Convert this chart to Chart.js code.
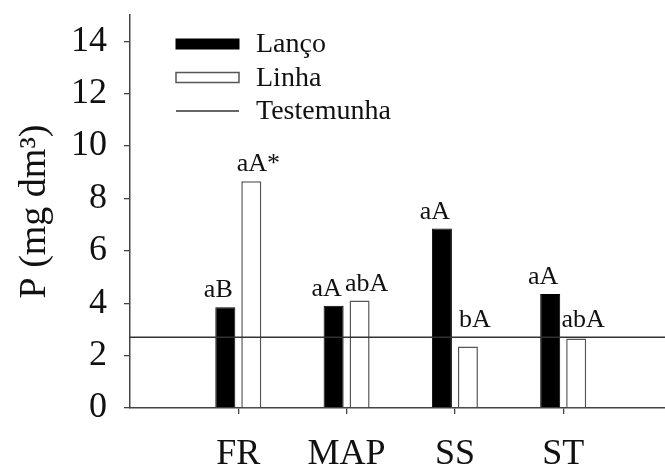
<!DOCTYPE html>
<html>
<head>
<meta charset="utf-8">
<script src="https://cdn.jsdelivr.net/npm/chart.js@4.4.1/dist/chart.umd.min.js"></script>
<style>
    html, body { margin: 0; padding: 0; background: #fff; }
    #wrap { width: 665px; height: 465px; }
</style>
</head>
<body>
<div id="wrap"><canvas id="chart" width="665" height="465"></canvas></div>
<script>
// dados
const categories = ["FR", "MAP", "SS", "ST"];
const lanco = [3.85, 3.9, 6.85, 4.35];
const linha = [8.65, 4.1, 2.35, 2.65];
const testemunha = 2.7;
const lancoLetters = ["aB", "aA", "aA", "aA"];
const linhaLetters = ["aA*", "abA", "bA", "abA"];
const yTicks = [0, 2, 4, 6, 8, 10, 12, 14];
const xMin = 0, xMax = 4.94, yMin = 0, yMax = 15;

const serif = "'Liberation Serif', 'DejaVu Serif', serif";
const ink = "#111";
const axisColor = "#444";

// Letras sobre as barras
const barLetters = {
    id: "barLetters",
    afterDatasetsDraw(chart) {
        const ctx = chart.ctx;
        const lineY = chart.scales.y.getPixelForValue(testemunha);
        const sets = [[0, lancoLetters, -7], [1, linhaLetters, 7]];
        ctx.save();
        ctx.font = "26px " + serif;
        ctx.fillStyle = ink;
        ctx.textAlign = "center";
        ctx.textBaseline = "alphabetic";
        sets.forEach(([idx, letters, nudge]) => {
            chart.getDatasetMeta(idx).data.forEach((bar, i) => {
                const top = Math.min(bar.y, lineY);
                ctx.fillText(letters[i], bar.x + nudge, top - 10);
            });
        });
        ctx.restore();
    }
};

// Legenda dentro do grafico
const innerLegend = {
    id: "innerLegend",
    afterDraw(chart) {
        const ctx = chart.ctx;
        const area = chart.chartArea;
        const x = area.left + 46;
        let y = area.top + 29;
        ctx.save();
        ctx.font = "28px " + serif;
        ctx.textBaseline = "middle";
        ctx.textAlign = "left";
        chart.data.datasets.forEach(ds => {
            if (ds.type === "line") {
                ctx.strokeStyle = ds.borderColor;
                ctx.lineWidth = ds.borderWidth;
                ctx.beginPath();
                ctx.moveTo(x, y);
                ctx.lineTo(x + 63, y);
                ctx.stroke();
            } else {
                ctx.fillStyle = ds.backgroundColor;
                ctx.fillRect(x, y - 5, 63, 10);
                ctx.strokeStyle = ds.borderColor;
                ctx.lineWidth = ds.borderWidth;
                ctx.strokeRect(x, y - 5, 63, 10);
            }
            ctx.fillStyle = ink;
            ctx.fillText(ds.label, x + 80, y + 1);
            y += 33.5;
        });
        ctx.restore();
    }
};

function initChart() {
    const ctx = document.getElementById("chart").getContext("2d");
    new Chart(ctx, {
        data: {
            datasets: [
                {
                    type: "bar",
                    label: "Lanço",
                    data: categories.map((c, i) => ({ x: i + 1, y: lanco[i] })),
                    backgroundColor: "#000",
                    borderColor: "#000",
                    borderWidth: 1,
                    categoryPercentage: 0.48,
                    barPercentage: 0.77,
                    order: 1
                },
                {
                    type: "bar",
                    label: "Linha",
                    data: categories.map((c, i) => ({ x: i + 1, y: linha[i] })),
                    backgroundColor: "#fff",
                    borderColor: "#555",
                    borderWidth: 1.5,
                    categoryPercentage: 0.48,
                    barPercentage: 0.77,
                    order: 1
                },
                {
                    type: "line",
                    label: "Testemunha",
                    data: [{ x: xMin, y: testemunha }, { x: xMax, y: testemunha }],
                    borderColor: "#333",
                    borderWidth: 1.4,
                    pointRadius: 0,
                    fill: false,
                    order: 0
                }
            ]
        },
        options: {
            responsive: false,
            animation: false,
            layout: { padding: { top: 15, right: 0, left: 0, bottom: 0 } },
            plugins: {
                legend: { display: false },
                tooltip: { enabled: false }
            },
            scales: {
                x: {
                    type: "linear",
                    min: xMin,
                    max: xMax,
                    offset: false,
                    afterBuildTicks: scale => {
                        scale.ticks = categories.map((c, i) => ({ value: i + 1 }));
                    },
                    afterFit: scale => {
                        scale.height = 57;
                        scale.paddingLeft = 0;
                        scale.paddingRight = 0;
                    },
                    grid: { display: true, offset: false, drawOnChartArea: false, drawTicks: true, tickLength: 6, color: axisColor, lineWidth: 1.3 },
                    border: { display: true, color: axisColor, width: 1.5 },
                    ticks: {
                        autoSkip: false,
                        maxRotation: 0,
                        padding: 19,
                        color: ink,
                        font: { family: serif, size: 36 },
                        callback: v => categories[v - 1]
                    }
                },
                y: {
                    min: yMin,
                    max: yMax,
                    afterBuildTicks: scale => {
                        scale.ticks = yTicks.map(v => ({ value: v }));
                    },
                    afterFit: scale => {
                        scale.width = 130;
                        scale.paddingTop = 0;
                        scale.paddingBottom = 0;
                    },
                    grid: { display: true, drawOnChartArea: false, drawTicks: true, tickLength: 6, color: axisColor, lineWidth: 1.3 },
                    border: { display: true, color: axisColor, width: 1.5 },
                    ticks: {
                        padding: 17,
                        color: ink,
                        font: { family: serif, size: 36 }
                    },
                    title: {
                        display: true,
                        text: "P (mg dm³)",
                        color: ink,
                        padding: { top: 12, bottom: 0 },
                        font: { family: serif, size: 38 }
                    }
                }
            }
        },
        plugins: [barLetters, innerLegend]
    });
}

document.addEventListener("DOMContentLoaded", initChart);
</script>
</body>
</html>
